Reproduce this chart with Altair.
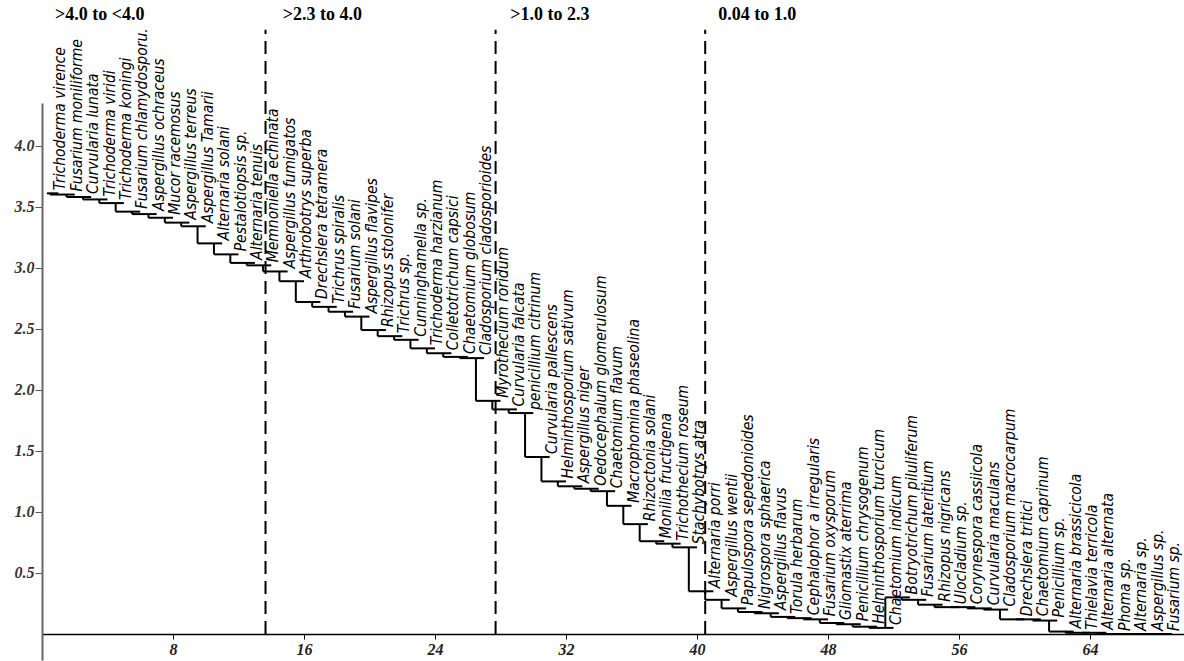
import altair as alt
import pandas as pd

# Leaf order of the dendrogram (left to right)
species = [
    "Trichoderma virence", "Fusarium moniliforme", "Curvularia lunata",
    "Trichoderma viridi", "Trichoderma koningi", "Fusarium chlamydosporu.",
    "Aspergillus ochraceus", "Mucor racemosus", "Aspergillus terreus",
    "Aspergillus Tamarii", "Alternaria solani", "Pestalotiopsis sp.",
    "Alternaria tenuis", "Memnoniella echinata", "Aspergillus fumigatos",
    "Arthrobotrys superba", "Drechslera tetramera", "Trichrus spiralis",
    "Fusarium solani", "Aspergillus flavipes", "Rhizopus stolonifer",
    "Trichrus sp.", "Cunninghamella sp.", "Trichoderma harzianum",
    "Colletotrichum capsici", "Chaetomium globosum", "Cladosporium cladosporioides",
    "Myrothecium roridum", "Curvularia falcata", "penicillium citrinum",
    "Curvularia pallescens", "Helminthosporium sativum", "Aspergillus niger",
    "Oedocephalum glomerulosum", "Chaetomium flavum", "Macrophomina phaseolina",
    "Rhizoctonia solani", "Monilia fructigena", "Trichothecium roseum",
    "Stachybotrys atra", "Alternaria porri", "Aspergillus wentii",
    "Papulospora sepedonioides", "Nigrospora sphaerica", "Aspergillus flavus",
    "Torula herbarum", "Cephalophor a irregularis", "Fusarium oxysporum",
    "Gliomastix aterrima", "Penicillium chrysogenum", "Helminthosporium turcicum",
    "Chaetomium indicum", "Botryotrichum piluliferum", "Fusarium lateritium",
    "Rhizopus nigricans", "Ulocladium sp.", "Corynespora cassiicola",
    "Curvularia maculans", "Cladosporium macrocarpum", "Drechslera tritici",
    "Chaetomium caprinum", "Penicillium sp.", "Alternaria brassicicola",
    "Thielavia terricola", "Alternaria alternata", "Phoma sp.",
    "Alternaria sp.", "Aspergillus sp.", "Fusarium sp.",
]

# Joining height of each leaf
heights = [
    3.61, 3.60, 3.58, 3.56, 3.53, 3.46, 3.44, 3.41, 3.37, 3.34,
    3.20, 3.11, 3.04, 3.02, 2.97, 2.89, 2.72, 2.68, 2.64, 2.60,
    2.49, 2.44, 2.41, 2.34, 2.30, 2.27, 2.26, 1.91, 1.84, 1.81,
    1.45, 1.25, 1.21, 1.19, 1.17, 1.05, 0.90, 0.76, 0.74, 0.71,
    0.35, 0.28, 0.21, 0.18, 0.17, 0.14, 0.13, 0.12, 0.09, 0.08,
    0.06, 0.05, 0.30, 0.28, 0.24, 0.22, 0.22, 0.21, 0.20, 0.12,
    0.12, 0.11, 0.02, 0.01, 0.01, 0.00, 0.00, 0.00, 0.00,
]

x_ticks = [8, 16, 24, 32, 40, 48, 56, 64]
y_ticks = [0.5, 1.0, 1.5, 2.0, 2.5, 3.0, 3.5, 4.0]

# Group boundaries and their headings
cut_positions = [13.65, 27.7, 40.5]
cut_top = 4.95
band_labels = [">4.0 to <4.0", ">2.3 to 4.0", ">1.0 to 2.3", "0.04 to 1.0"]
band_label_x = [0.8, 14.7, 28.6, 41.3]
band_label_y = 5.07

positions = list(range(1, len(species) + 1))

# Dendrogram segments: a tread under each leaf and a drop from the previous one
segments = []
for k, (p, h) in enumerate(zip(positions, heights)):
    start = p - 1.5 if k > 0 else p - 0.7
    segments.append({"x": start, "x2": p, "y": h, "y2": h})
    if k > 0:
        segments.append({"x": start, "x2": start, "y": heights[k - 1], "y2": h})
seg_df = pd.DataFrame(segments)

leaf_df = pd.DataFrame({"x": positions, "y": heights, "name": species})
cut_df = pd.DataFrame({"x": cut_positions, "y": [0.0] * len(cut_positions),
                       "y2": [cut_top] * len(cut_positions)})
band_df = pd.DataFrame({"x": band_label_x, "y": [band_label_y] * len(band_labels),
                        "label": band_labels})

serif = "Liberation Serif"

xs = alt.Scale(domain=[0, 69.74], nice=False, zero=False)
ys = alt.Scale(domain=[-0.213, 4.35], nice=False, zero=False)

x_axis = alt.Axis(
    values=x_ticks, format="d", title=None, grid=False, offset=-26,
    labelFont=serif, labelFontStyle="italic", labelFontWeight="bold",
    labelFontSize=16, labelColor="#222", labelPadding=2,
    tickSize=5, tickColor="black", domainColor="black", domainWidth=1.5)
y_axis = alt.Axis(
    values=y_ticks, format=".1f", title=None, grid=False,
    labelFont=serif, labelFontStyle="italic", labelFontWeight="bold",
    labelFontSize=16, labelColor="#333", labelPadding=1,
    tickSize=7, tickColor="#555", domainColor="#666", domainWidth=2)

X = alt.X("x:Q", scale=xs, axis=x_axis)
Y = alt.Y("y:Q", scale=ys, axis=y_axis)

tree = alt.Chart(seg_df).mark_rule(color="black", strokeWidth=2).encode(
    x=X, x2="x2:Q", y=Y, y2="y2:Q",
)

names = alt.Chart(leaf_df).mark_text(
    angle=270, align="left", baseline="middle", dx=3, dy=2,
    font="Liberation Sans Narrow, DejaVu Sans Condensed, Liberation Sans",
    fontStyle="italic", fontSize=15.5, color="black",
).encode(x=X, y=Y, text="name:N")

cuts = alt.Chart(cut_df).mark_rule(color="black", strokeWidth=2, strokeDash=[13, 7]).encode(
    x=X, y=Y, y2="y2:Q",
)

bands = alt.Chart(band_df).mark_text(
    align="left", baseline="middle", font=serif, fontWeight="bold",
    fontSize=18, color="black",
).encode(x=X, y=Y, text="label:N")

chart = alt.layer(tree, cuts, names, bands).properties(
    width=1142,
    height=557,
    autosize=alt.AutoSizeParams(type="none"),
    padding={"left": 42, "top": 103, "right": 0, "bottom": 1},
    background="white",
).configure_view(stroke=None)

chart.save("out.html", embed_options={"renderer": "svg", "actions": False})
